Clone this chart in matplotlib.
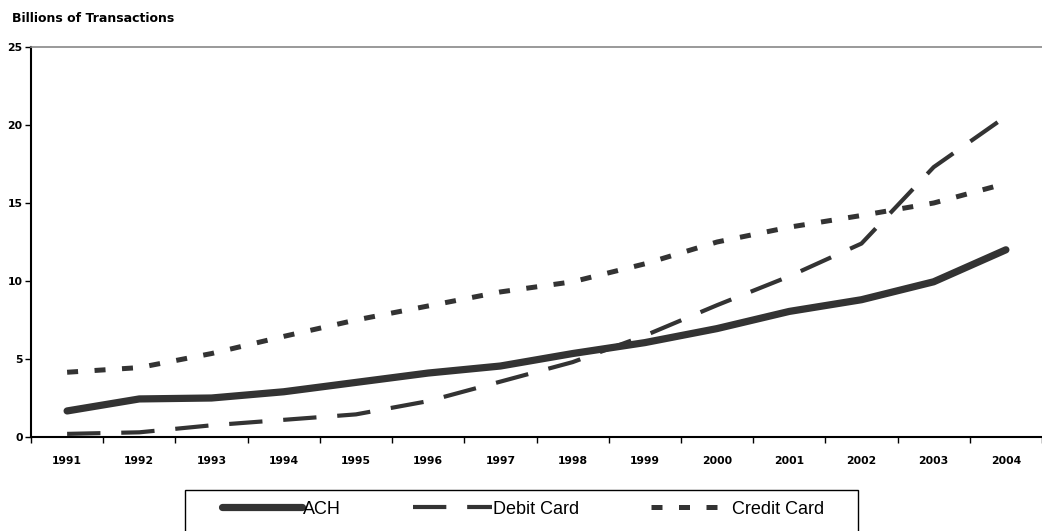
import matplotlib
matplotlib.use("Agg")
import matplotlib.pyplot as plt
from matplotlib.patches import Rectangle
import numpy as np

# data (billions of transactions)
years = ["1991", "1992", "1993", "1994", "1995", "1996", "1997",
         "1998", "1999", "2000", "2001", "2002", "2003", "2004"]
ach = [1.67, 2.44, 2.5, 2.9, 3.5, 4.1, 4.55, 5.35, 6.05, 6.95, 8.05, 8.8, 9.95, 12.0]
debit = [0.2, 0.3, 0.75, 1.1, 1.45, 2.3, 3.55, 4.8, 6.5, 8.45, 10.3, 12.4, 17.3, 20.55]
credit = [4.15, 4.45, 5.35, 6.45, 7.5, 8.4, 9.3, 9.95, 11.1, 12.5, 13.45, 14.2, 15.0, 16.25]
y_ticks = [0, 5, 10, 15, 20, 25]

plt.rcParams['font.family'] = ['Liberation Sans', 'DejaVu Sans']
line_color = "#333333"
W, H = 1042, 531

fig = plt.figure(figsize=(W / 100, H / 100), dpi=100)
ax = fig.add_axes([31 / W, 1 - 437 / H, 1011 / W, 390 / H])

x = np.arange(len(years))
ax.plot(x, ach, color=line_color, lw=5.2, solid_capstyle="round", solid_joinstyle="round", label="ACH")
ax.plot(x, debit, color=line_color, lw=3.0, linestyle=(0, (8, 5)), label="Debit Card")
ax.plot(x, credit, color=line_color, lw=3.6, linestyle=(0, (2.2, 3.3)), label="Credit Card")

ax.set_xlim(-0.5, len(years) - 0.5)
ax.set_ylim(0, 25)

# category labels centered, tick marks on the boundaries
bold_font = dict(family="DejaVu Sans", weight="bold", size=7.8)
ax.set_xticks(x)
ax.set_xticklabels(years, fontdict=bold_font)
ax.tick_params(axis="x", which="major", length=0, pad=14)
ax.set_xticks(np.arange(-0.5, len(years)), minor=True)
ax.tick_params(axis="x", which="minor", length=4, width=1, direction="out")
ax.set_yticks(y_ticks)
ax.set_yticklabels([str(t) for t in y_ticks], fontdict=bold_font)
ax.tick_params(axis="y", length=4, width=1, direction="out", pad=2)

ax.spines["right"].set_visible(False)
ax.spines["top"].set_color("#888888")
ax.spines["top"].set_linewidth(1.2)
ax.spines["left"].set_linewidth(1.5)
ax.spines["bottom"].set_linewidth(1.5)

fig.text(12 / W, 1 - 18 / H, "Billions of Transactions", family="DejaVu Sans",
         weight="bold", fontsize=9, va="center")

# legend box (bottom edge runs off the figure, as in the reference)
fig.patches.append(Rectangle((185 / W, -0.02), 673 / W, 0.02 + 41 / H, transform=fig.transFigure,
                             facecolor="none", edgecolor="black", lw=1.0))
fig.legend(loc="center", bbox_to_anchor=(523 / W, 1 - 509 / H), ncol=3, frameon=False,
           fontsize=13, handlelength=4.4, handletextpad=0.05, columnspacing=4.0)

fig.savefig("out.png", dpi=100)
